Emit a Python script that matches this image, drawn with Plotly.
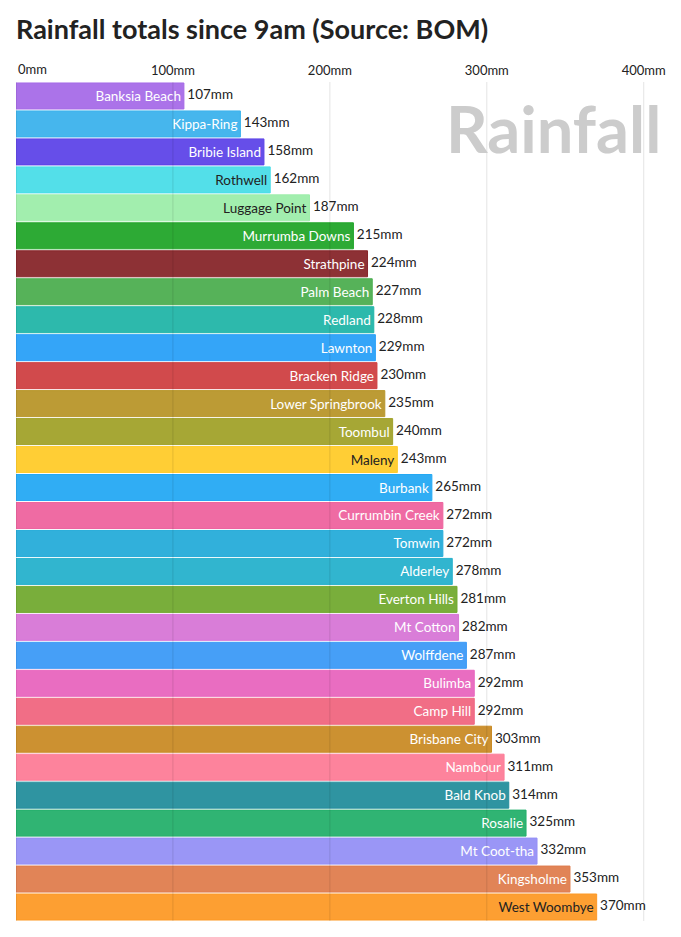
import plotly.graph_objects as go

# rainfall since 9am, mm
stations = ["Banksia Beach", "Kippa-Ring", "Bribie Island", "Rothwell", "Luggage Point",
            "Murrumba Downs", "Strathpine", "Palm Beach", "Redland", "Lawnton",
            "Bracken Ridge", "Lower Springbrook", "Toombul", "Maleny", "Burbank",
            "Currumbin Creek", "Tomwin", "Alderley", "Everton Hills", "Mt Cotton",
            "Wolffdene", "Bulimba", "Camp Hill", "Brisbane City", "Nambour",
            "Bald Knob", "Rosalie", "Mt Coot-tha", "Kingsholme", "West Woombye"]
rainfall = [107, 143, 158, 162, 187, 215, 224, 227, 228, 229, 230, 235, 240, 243, 265,
            272, 272, 278, 281, 282, 287, 292, 292, 303, 311, 314, 325, 332, 353, 370]

colors = ["#a66be8", "#3cb2ec", "#5e45e8", "#4adde8", "#9dedaa",
          "#22a52a", "#87262a", "#4dae50", "#22b5a8", "#29a0f8",
          "#cf4042", "#b8962a", "#a1a22a", "#ffcb2a", "#25a9f3",
          "#ee639e", "#26acd9", "#26b1cc", "#72aa30", "#d776d6",
          "#3c9af7", "#e865be", "#f06680", "#c98b26", "#fd7c97",
          "#248e9c", "#25b06c", "#9590f6", "#df7d4e", "#fd9a27"]
dark_label = {"Rothwell", "Luggage Point", "Maleny", "West Woombye"}

tick_vals = [0, 100, 200, 300, 400]
tick_text = ["0mm", "100mm", "200mm", "300mm", "400mm"]

# the page body has an 8px margin, pull everything back by that much
OFF = 8
W, H = 681, 937


def rgba(hex_col, a):
    h = hex_col.lstrip("#")
    r, g, b = int(h[0:2], 16), int(h[2:4], 16), int(h[4:6], 16)
    return "rgba(%d,%d,%d,%.2f)" % (r, g, b, a)


bars = go.Bar(
    x=rainfall,
    y=stations,
    orientation="h",
    text=stations,
    textposition="inside",
    insidetextanchor="end",
    constraintext="none",
    textfont=dict(family="Lato", size=13.5,
                  color=["#222222" if s in dark_label else "#ffffff" for s in stations]),
    marker=dict(color=[rgba(c, 0.95) for c in colors],
                line=dict(color=colors, width=1)),
    hoverinfo="skip",
)

values = go.Scatter(
    x=rainfall,
    y=stations,
    mode="text",
    text=[" %dmm" % v for v in rainfall],
    textposition="middle right",
    textfont=dict(family="Lato", size=13.5, color="#222222"),
    hoverinfo="skip",
    cliponaxis=False,
)

fig = go.Figure(data=[bars, values])

# grid drawn over the bars, like the original
for tv in tick_vals:
    fig.add_shape(type="line", xref="x", yref="paper", x0=tv, x1=tv, y0=0, y1=1,
                  line=dict(color="rgba(0,0,0,0.11)", width=1), layer="above")

fig.update_layout(
    width=W,
    height=H,
    margin=dict(l=16 - OFF, r=20 + OFF, t=82 - OFF, b=16 + OFF),
    paper_bgcolor="white",
    plot_bgcolor="white",
    showlegend=False,
    bargap=0.07,
    font=dict(family="Lato", color="#333333"),
    title=dict(
        text="<b>Rainfall totals since 9am (Source: BOM)</b>",
        font=dict(family="Lato", size=27, color="#222222"),
        x=(16 - OFF) / W, xanchor="left", xref="container",
        y=1 - (20 - OFF) / H, yanchor="top", yref="container",
    ),
    xaxis=dict(
        side="top",
        range=[0, 411],
        # the zero label is left-aligned on its gridline, added as an annotation below
        tickvals=tick_vals[1:],
        ticktext=tick_text[1:],
        tickfont=dict(family="Lato", size=13, color="#222222"),
        ticklabelstandoff=3,
        showgrid=False,
        zeroline=False,
        showline=False,
        ticks="",
        automargin=False,
        fixedrange=True,
    ),
    yaxis=dict(
        range=[len(stations) - 0.5, -0.5],
        showticklabels=False,
        showgrid=False,
        zeroline=False,
        automargin=False,
        fixedrange=True,
    ),
    annotations=[
        dict(
            text=tick_text[0],
            xref="x", yref="paper",
            x=tick_vals[0], y=1, xanchor="left", yanchor="bottom", yshift=3,
            showarrow=False,
            font=dict(family="Lato", size=13, color="#222222"),
        ),
        dict(
            text="<b>Rainfall</b>",
            xref="paper", yref="paper",
            x=1, y=1, xanchor="right", yanchor="top", yshift=-5, xshift=2,
            showarrow=False,
            font=dict(family="Lato", size=65, color="#cccccc"),
        ),
    ],
)

fig.write_html("out.html")
